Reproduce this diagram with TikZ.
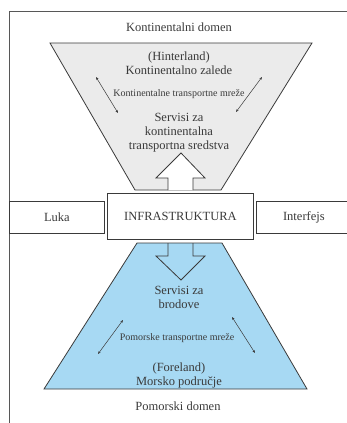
\documentclass[tikz,border=0pt]{standalone}
\usepackage{fontspec}
\setmainfont{Liberation Serif}
\usetikzlibrary{arrows.meta}
\definecolor{ink}{HTML}{3A3A3A}
\definecolor{landfill}{HTML}{EBEBEB}
\definecolor{seafill}{HTML}{A7D9F3}
\begin{document}
\begin{tikzpicture}[x=1pt,y=-1pt,
  lbl/.style={font=\fontsize{12.5}{14}\selectfont, text=ink, align=center, inner sep=0pt},
  small/.style={font=\fontsize{10}{12}\selectfont, text=ink, inner sep=0pt},
  edge/.style={draw=ink, line width=0.8pt},
  flow/.style={draw=ink, line width=0.5pt,
    {Stealth[length=3pt,width=2.4pt]}-{Stealth[length=3pt,width=2.4pt]}},
]
\useasboundingbox (0,0) rectangle (347,423);

% open frame around the whole scheme
\draw[ink!85, line width=0.8pt] (9,423) -- (9,11) -- (347,11);

% continental funnel and maritime trapezoid
\filldraw[edge, fill=landfill] (50,43) -- (312,43) -- (221,190) -- (135,190) -- cycle;
\filldraw[edge, fill=seafill] (137,243) -- (222,243) -- (307,389) -- (44,389) -- cycle;

% block arrows leaving the infrastructure
\fill[white] (168,190) -- (168,178) -- (156,178) -- (181,153) -- (205,178) -- (193,178) -- (193,190) -- cycle;
\draw[edge, line join=miter] (168,190) -- (168,178) -- (156,178) -- (181,153) -- (205,178) -- (193,178) -- (193,190);
\draw[edge, line join=miter] (168,243) -- (168,256) -- (156,256) -- (181,280) -- (205,256) -- (193,256) -- (193,243);

% middle row of boxes
\node[edge, fill=white, minimum width=95pt, minimum height=32pt, inner sep=0pt,
      lbl, anchor=north west] (luka) at (9,201) {Luka};
\node[edge, fill=white, minimum width=146pt, minimum height=46pt, inner sep=0pt,
      lbl, anchor=north west] (infra) at (107,193) {INFRASTRUKTURA};
\node[edge, fill=white, minimum width=95pt, minimum height=32pt, inner sep=0pt,
      lbl, anchor=north west] (iface) at (256,201) {Interfejs};

% continental side
\node[lbl] (kdomen) at (179,27) {Kontinentalni domen};
\node[lbl] (hinter) at (179,63) {(Hinterland)\\Kontinentalno zalede};
\node[small] (knet) at (179,94) {Kontinentalne transportne mreže};
\node[lbl] (kserv) at (179,133) {Servisi za\\kontinentalna\\transportna sredstva};
\coordinate (ka1) at (96,77);
\coordinate (ka2) at (118,113);
\coordinate (kb1) at (262,77);
\coordinate (kb2) at (236,112);
\draw[flow] (ka1) -- (ka2);
\draw[flow] (kb1) -- (kb2);

% maritime side
\node[lbl] (mserv) at (179,297) {Servisi za\\brodove};
\node[small] (mnet) at (177,338) {Pomorske transportne mreže};
\node[lbl] (fore) at (179,375) {(Foreland)\\Morsko područje};
\node[lbl] (mdomen) at (178,406) {Pomorski domen};
\coordinate (ma1) at (123,320);
\coordinate (ma2) at (98,354);
\coordinate (mb1) at (232,317);
\coordinate (mb2) at (255,353);
\draw[flow] (ma1) -- (ma2);
\draw[flow] (mb1) -- (mb2);
\end{tikzpicture}
\end{document}
